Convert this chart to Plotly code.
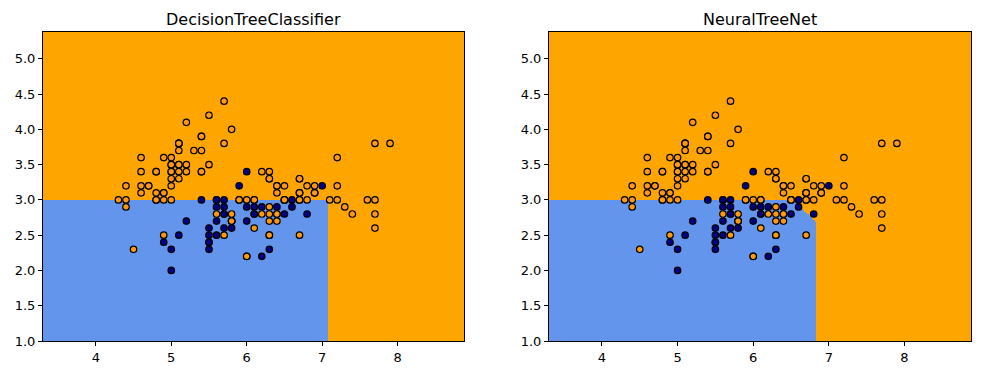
import numpy as np
import plotly.graph_objects as go

# Iris data: sepal length, sepal width, class (0 setosa, 1 versicolor, 2 virginica)
sepal_length = [
    5.1,4.9,4.7,4.6,5.0,5.4,4.6,5.0,4.4,4.9,5.4,4.8,4.8,4.3,5.8,5.7,5.4,5.1,5.7,5.1,
    5.4,5.1,4.6,5.1,4.8,5.0,5.0,5.2,5.2,4.7,4.8,5.4,5.2,5.5,4.9,5.0,5.5,4.9,4.4,5.1,
    5.0,4.5,4.4,5.0,5.1,4.8,5.1,4.6,5.3,5.0,
    7.0,6.4,6.9,5.5,6.5,5.7,6.3,4.9,6.6,5.2,5.0,5.9,6.0,6.1,5.6,6.7,5.6,5.8,6.2,5.6,
    5.9,6.1,6.3,6.1,6.4,6.6,6.8,6.7,6.0,5.7,5.5,5.5,5.8,6.0,5.4,6.0,6.7,6.3,5.6,5.5,
    5.5,6.1,5.8,5.0,5.6,5.7,5.7,6.2,5.1,5.7,
    6.3,5.8,7.1,6.3,6.5,7.6,4.9,7.3,6.7,7.2,6.5,6.4,6.8,5.7,5.8,6.4,6.5,7.7,7.7,6.0,
    6.9,5.6,7.7,6.3,6.7,7.2,6.2,6.1,6.4,7.2,7.4,7.9,6.4,6.3,6.1,7.7,6.3,6.4,6.0,6.9,
    6.7,6.9,5.8,6.8,6.7,6.7,6.3,6.5,6.2,5.9,
]
sepal_width = [
    3.5,3.0,3.2,3.1,3.6,3.9,3.4,3.4,2.9,3.1,3.7,3.4,3.0,3.0,4.0,4.4,3.9,3.5,3.8,3.8,
    3.4,3.7,3.6,3.3,3.4,3.0,3.4,3.5,3.4,3.2,3.1,3.4,4.1,4.2,3.1,3.2,3.5,3.6,3.0,3.4,
    3.5,2.3,3.2,3.5,3.8,3.0,3.8,3.2,3.7,3.3,
    3.2,3.2,3.1,2.3,2.8,2.8,3.3,2.4,2.9,2.7,2.0,3.0,2.2,2.9,2.9,3.1,3.0,2.7,2.2,2.5,
    3.2,2.8,2.5,2.8,2.9,3.0,2.8,3.0,2.9,2.6,2.4,2.4,2.7,2.7,3.0,3.4,3.1,2.3,3.0,2.5,
    2.6,3.0,2.6,2.3,2.7,3.0,2.9,2.9,2.5,2.8,
    3.3,2.7,3.0,2.9,3.0,3.0,2.5,2.9,2.5,3.6,3.2,2.7,3.0,2.5,2.8,3.2,3.0,3.8,2.6,2.2,
    3.2,2.8,2.8,2.7,3.3,3.2,2.8,3.0,2.8,3.0,2.8,3.8,2.8,2.8,2.6,3.0,3.4,3.1,3.0,3.1,
    3.1,3.1,2.7,3.2,3.3,3.0,2.5,3.0,3.4,3.0,
]
species = [0] * 50 + [1] * 50 + [2] * 50

# Decision-region thresholds
dt_x_max = 7.08       # DecisionTreeClassifier: versicolor if x < 7.08 and y < 2.99
dt_y_max = 2.99
nn_y_max = 2.99       # NeuralTreeNet: versicolor if y < 2.99 and x < boundary(y)
nn_edge_y = [1.0, 2.67, 2.95]
nn_edge_x = [6.83, 6.83, 6.57]

grid_step = 0.02
x_lo, x_hi = 3.3, 8.88
y_lo, y_hi = 1.0, 5.38

gx = np.arange(x_lo, x_hi + 1e-9, grid_step)
gy = np.arange(y_lo, y_hi + 1e-9, grid_step)
XX, YY = np.meshgrid(gx, gy)
z_dt = ((XX < dt_x_max) & (YY < dt_y_max)).astype(int)
z_nn = ((YY < nn_y_max) & (XX < np.interp(YY, nn_edge_y, nn_edge_x))).astype(int)

region_scale = [[0, "#FFA500"], [0.5, "#FFA500"], [0.5, "#6495ED"], [1, "#6495ED"]]
pt_colors = ["#000080" if s == 1 else "#FF9A0E" for s in species]

fig = go.Figure()
for i, z in enumerate([z_dt, z_nn]):
    ax = "" if i == 0 else "2"
    fig.add_trace(go.Heatmap(x=gx, y=gy, z=z, colorscale=region_scale, zmin=0, zmax=1,
                             showscale=False, xaxis="x" + ax, yaxis="y" + ax, hoverinfo="skip"))
    fig.add_trace(go.Scatter(x=sepal_length, y=sepal_width, mode="markers",
                             marker=dict(size=6.5, color=pt_colors, line=dict(color="black", width=1.2)),
                             xaxis="x" + ax, yaxis="y" + ax, showlegend=False))

# the page body adds an 8px margin, so the figure is offset by that
W, H = 973, 366
ml, mr, mt, mb = 35, 10, 24, 33
pw = W - ml - mr
d1 = [0, 421 / pw]
d2 = [(549 - 43) / pw, 1]

axis_common = dict(showgrid=False, zeroline=False, showline=True, linecolor="black", linewidth=1,
                   mirror=True, ticks="outside", ticklen=4, tickcolor="black", automargin=False,
                   tickfont=dict(family="DejaVu Sans", size=13, color="black"))
xcommon = dict(axis_common, range=[x_lo, x_hi], tickvals=[4, 5, 6, 7, 8])
ycommon = dict(axis_common, range=[y_lo, y_hi], tickvals=[1, 1.5, 2, 2.5, 3, 3.5, 4, 4.5, 5], tickformat=".1f")

fig.update_layout(
    width=W, height=H, margin=dict(l=ml, r=mr, t=mt, b=mb),
    paper_bgcolor="white", plot_bgcolor="white", showlegend=False,
    xaxis=dict(xcommon, domain=d1, anchor="y"),
    yaxis=dict(ycommon, domain=[0, 1], anchor="x"),
    xaxis2=dict(xcommon, domain=d2, anchor="y2"),
    yaxis2=dict(ycommon, domain=[0, 1], anchor="x2"),
    annotations=[
        dict(text="DecisionTreeClassifier", x=sum(d1) / 2, y=1, xref="paper", yref="paper",
             xanchor="center", yanchor="bottom", yshift=1, showarrow=False,
             font=dict(family="DejaVu Sans", size=16, color="black")),
        dict(text="NeuralTreeNet", x=sum(d2) / 2, y=1, xref="paper", yref="paper",
             xanchor="center", yanchor="bottom", yshift=1, showarrow=False,
             font=dict(family="DejaVu Sans", size=16, color="black")),
    ],
)

fig.write_html("out.html")
